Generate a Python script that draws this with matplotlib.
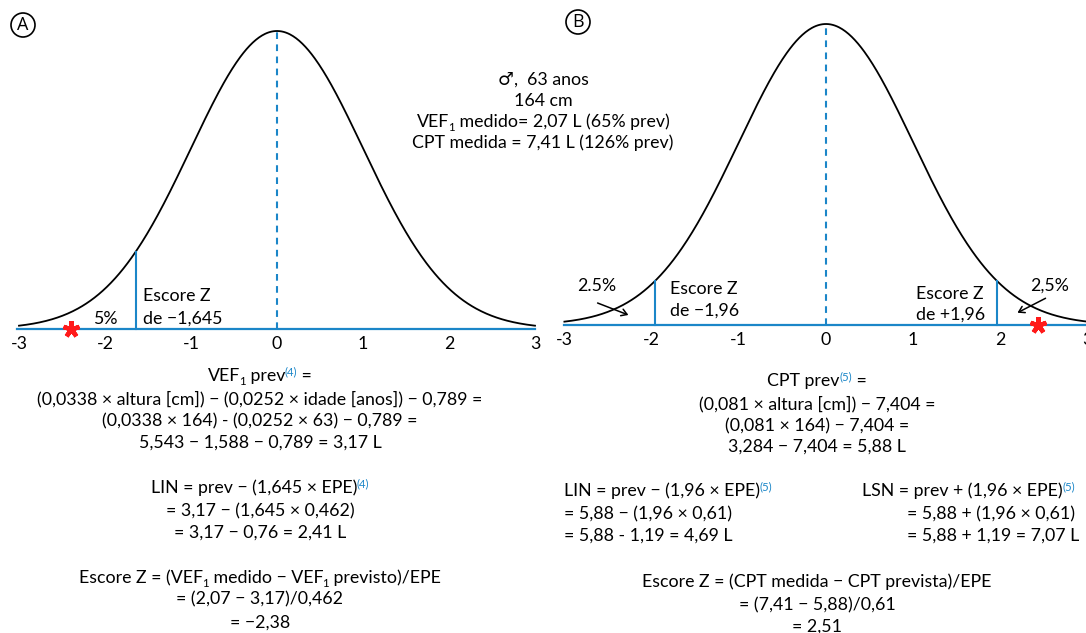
import numpy as np
import matplotlib
matplotlib.use("Agg")
import matplotlib.pyplot as plt
from matplotlib.transforms import IdentityTransform
from matplotlib.patches import Circle

# ---------------- data ----------------
tick_vals = [-3, -2, -1, 0, 1, 2, 3]
tick_labels = ["-3", "-2", "-1", "0", "1", "2", "3"]
z_range = [-3.0, 3.0]
z_lin_A = -1.645
z_lin_B = -1.96
z_lsn_B = 1.96
z_patient_A = -2.40
z_patient_B = 2.43
tail_A = "5%"
tail_B_left = "2.5%"
tail_B_right = "2,5%"

W, H = 1086, 633
BLUE = "#1b86c8"
FS = 12.8
plt.rcParams["font.family"] = ["Lato", "DejaVu Sans"]

fig = plt.figure(figsize=(W / 100, H / 100), dpi=100)
ID = IdentityTransform()


def make_axes(px_left, px_right, center, unit, base, peak):
    ax = fig.add_axes([px_left / W, 0, (px_right - px_left) / W, 1])
    ax.set_xlim((px_left - center) / unit, (px_right - center) / unit)
    scale = base - peak
    ax.set_ylim(-(H - base) / scale, base / scale)
    for s in ["top", "left", "right"]:
        ax.spines[s].set_visible(False)
    ax.spines["bottom"].set_position(("data", 0))
    ax.spines["bottom"].set_color(BLUE)
    ax.spines["bottom"].set_linewidth(1.6)
    ax.set_yticks([])
    ax.set_xticks(tick_vals, tick_labels)
    ax.tick_params(axis="x", length=0, pad=5, labelsize=FS)
    ax.patch.set_alpha(0)
    return ax


def gauss(z):
    return np.exp(-np.asarray(z) ** 2 / 2)


def draw_curve(ax):
    z = np.linspace(z_range[0], z_range[1], 500)
    ax.plot(z, gauss(z), color="black", lw=1.3, clip_on=False)
    ax.plot([0, 0], [0, 1], color=BLUE, lw=1.5, ls=(0, (3.2, 2.6)))


def vline(ax, z):
    ax.plot([z, z], [0, gauss(z)], color=BLUE, lw=1.5)


def star(ax, z):
    ax.plot([z], [0], marker=(5, 2, 0), ms=12, mew=3.2, color="#ff1a1a",
            linestyle="none", clip_on=False, zorder=5)


# Panel A
axA = make_axes(0, 545, 277, 86.0, 329, 31)
axA.spines["bottom"].set_bounds(-3.02, 3.0)
draw_curve(axA)
vline(axA, z_lin_A)
star(axA, z_patient_A)

# Panel B
axB = make_axes(545, 1100, 826, 87.2, 325, 24)
axB.spines["bottom"].set_bounds(-3.0, 3.3)
draw_curve(axB)
vline(axB, z_lin_B)
vline(axB, z_lsn_B)
star(axB, z_patient_B)

renderer = fig.canvas.get_renderer()


def rich(x, yb, segs, ha="center", size=FS):
    if isinstance(segs, str):
        segs = [(segs, "n")]
    objs = []
    total = 0
    for s, k in segs:
        fs = size if k == "n" else size * 0.64
        col = BLUE if k == "sup" else "black"
        t = fig.text(0, 0, s, fontsize=fs, color=col, va="baseline",
                     ha="left", transform=ID)
        w = t.get_window_extent(renderer).width
        kern = -1.2 if k == "sub" else 0
        objs.append((t, k, w, kern))
        total += w + kern
    if ha == "center":
        x0 = x - total / 2
    elif ha == "left":
        x0 = x
    else:
        x0 = x - total
    for t, k, w, kern in objs:
        dy = {"n": 0, "sub": -4, "sup": 6}[k]
        x0 += kern
        t.set_position((x0, H - yb + dy))
        x0 += w


def circ_label(cx, cy, s):
    c = Circle((cx, H - cy), 12, transform=ID, fill=False, ec="black", lw=1.2)
    fig.add_artist(c)
    fig.text(cx, H - cy, s, transform=ID, ha="center", va="center",
             fontsize=13, family=["Open Sans", "DejaVu Sans"])


circ_label(23, 25, "A")
circ_label(578, 22, "B")

# annotations on panel A
rich(105, 324, tail_A)
rich(143, 301, "Escore Z", ha="left")
rich(143, 324, "de −1,645", ha="left")

# annotations on panel B
rich(597, 291, tail_B_left)
rich(670, 294, "Escore Z", ha="left")
rich(670, 316, "de −1,96", ha="left")
rich(916, 299, "Escore Z", ha="left")
rich(916, 320, "de +1,96", ha="left")
rich(1050, 291, tail_B_right)
fig.add_artist(matplotlib.patches.FancyArrowPatch(
    (595, H - 302), (631, H - 316), transform=ID, arrowstyle="->,head_length=4,head_width=2.5",
    color="black", lw=1.1))
fig.add_artist(matplotlib.patches.FancyArrowPatch(
    (1048, H - 297), (1015, H - 314), transform=ID, arrowstyle="->,head_length=4,head_width=2.5",
    color="black", lw=1.1))

# patient info
rich(543, 85, [("♂", "n"), (",  63 anos", "n")])
rich(543, 106, "164 cm")
rich(543, 127, [("VEF", "n"), ("1", "sub"), (" medido= 2,07 L (65% prev)", "n")])
rich(543, 148, "CPT medida = 7,41 L (126% prev)")

# Panel A formulas
cA = 260
rich(cA, 381, [("VEF", "n"), ("1", "sub"), (" prev", "n"), ("(4)", "sup"), (" =", "n")])
rich(cA, 404, "(0,0338 × altura [cm]) − (0,0252 × idade [anos]) − 0,789 =")
rich(cA, 426, "(0,0338 × 164) - (0,0252 × 63) − 0,789 =")
rich(cA, 448, "5,543 − 1,588 − 0,789 = 3,17 L")
rich(cA, 493, [("LIN = prev − (1,645 × EPE)", "n"), ("(4)", "sup")])
rich(cA, 516, "= 3,17 − (1,645 × 0,462)")
rich(cA, 538, "= 3,17 − 0,76 = 2,41 L")
rich(cA, 583, [("Escore Z = (VEF", "n"), ("1", "sub"), (" medido − VEF", "n"),
               ("1", "sub"), (" previsto)/EPE", "n")])
rich(cA, 604, "= (2,07 − 3,17)/0,462")
rich(cA, 628, "= −2,38")

# Panel B formulas
cB = 817
rich(cB, 386, [("CPT prev", "n"), ("(5)", "sup"), (" =", "n")])
rich(cB, 409, "(0,081 × altura [cm]) − 7,404 =")
rich(cB, 431, "(0,081 × 164) − 7,404 =")
rich(cB, 452, "3,284 − 7,404 = 5,88 L")
rich(564, 496, [("LIN = prev − (1,96 × EPE)", "n"), ("(5)", "sup")], ha="left")
rich(564, 519, "= 5,88 − (1,96 × 0,61)", ha="left")
rich(564, 541, "= 5,88 - 1,19 = 4,69 L", ha="left")
rich(862, 496, [("LSN = prev + (1,96 × EPE)", "n"), ("(5)", "sup")], ha="left")
rich(907, 519, "= 5,88 + (1,96 × 0,61)", ha="left")
rich(907, 541, "= 5,88 + 1,19 = 7,07 L", ha="left")
rich(cB, 587, "Escore Z = (CPT medida − CPT prevista)/EPE")
rich(cB, 610, "= (7,41 − 5,88)/0,61")
rich(cB, 632, "= 2,51")

fig.savefig("out.png", dpi=100)
